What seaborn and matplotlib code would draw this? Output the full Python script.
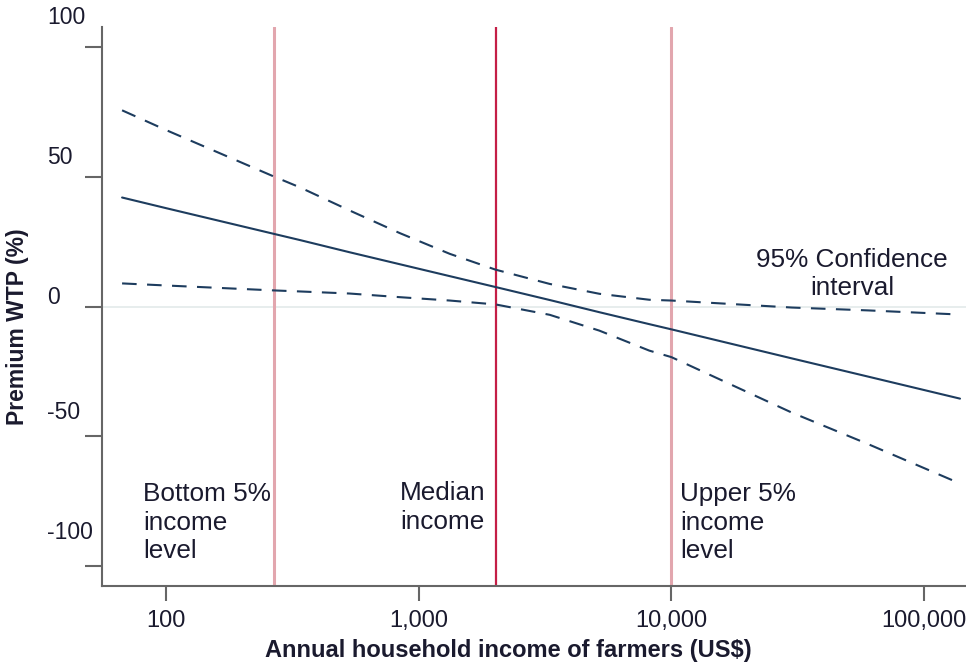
import numpy as np
import pandas as pd
import matplotlib
matplotlib.use("Agg")
import matplotlib.pyplot as plt
from matplotlib.ticker import FixedLocator, NullLocator
import seaborn as sns

# Annual household income (US$) at which the curves are given
income = [67, 100, 267, 339, 533, 841, 1327, 2015, 3300, 5190, 8180,
          10000, 30000, 60000, 138800]
# Fitted premium WTP (%) and its 95% confidence bounds
wtp_fit = [42.0, 37.9, 28.0, 25.6, 20.9, 16.3, 11.7, 7.5, 2.5, -2.2, -6.8,
           -8.8, -20.0, -27.0, -35.5]
ci_upper = [75.6, 68.0, 50.1, 45.9, 37.0, 28.3, 20.3, 14.2, 8.7, 4.9, 2.6,
            2.3, -0.4, -1.5, -3.1]
ci_lower = [8.9, 8.1, 6.2, 5.8, 5.0, 3.6, 2.3, 0.8, -3.2, -9.3, -17.0,
            -19.5, -40.9, -53.0, -68.2]

# Reference income levels
bottom_5 = 267
median_income = 2015
upper_5 = 10000

x_ticks = [100, 1000, 10000, 100000]
x_tick_labels = ["100", "1,000", "10,000", "100,000"]
y_ticks = [100, 50, 0, -50, -100]
y_tick_labels = ["100", "50", "0", "-50", "-100"]

df = pd.DataFrame({"income": income, "fit": wtp_fit,
                   "upper": ci_upper, "lower": ci_lower})

sns.set_theme(style="white")
plt.rcParams["font.family"] = ["Liberation Sans", "DejaVu Sans"]

NAVY = "#1d3c5e"
TXT = "#1a1a2e"
GREY = "#666666"
FS = 16.5

fig = plt.figure(figsize=(9.66, 6.62), dpi=100)
ax = fig.add_axes([0.1056, 0.1148, 0.8944, 0.8444])

ax.set_xscale("log")
ax.set_xlim(55.8, 146600)
ax.set_ylim(-107.7, 107.7)

# zero reference line
ax.axhline(0, color="#e3eaea", lw=1.2, zorder=1)

# income reference lines
ax.axvline(bottom_5, color="#e2a6ae", lw=2.2, zorder=2)
ax.axvline(median_income, color="#c41e46", lw=1.6, zorder=2)
ax.axvline(upper_5, color="#e2a6ae", lw=2.2, zorder=2)

sns.lineplot(data=df, x="income", y="fit", ax=ax, color=NAVY, lw=1.5,
             zorder=3)
sns.lineplot(data=df, x="income", y="upper", ax=ax, color=NAVY, lw=1.5,
             linestyle=(0, (7, 5)), zorder=3)
sns.lineplot(data=df, x="income", y="lower", ax=ax, color=NAVY, lw=1.5,
             linestyle=(0, (7, 5)), zorder=3)

# axes styling
for side in ("top", "right"):
    ax.spines[side].set_visible(False)
for side in ("left", "bottom"):
    ax.spines[side].set_color(GREY)
    ax.spines[side].set_linewidth(1.5)

ax.xaxis.set_major_locator(FixedLocator(x_ticks))
ax.xaxis.set_minor_locator(NullLocator())
ax.set_xticklabels(x_tick_labels)
ax.tick_params(axis="x", bottom=True, length=11, width=1.5, color=GREY,
               labelsize=17, labelcolor=TXT, pad=6.5)

ax.yaxis.set_major_locator(FixedLocator(y_ticks))
ax.set_yticklabels([])
ax.tick_params(axis="y", left=True, length=12, width=1.5, color=GREY)

# y tick labels sit slightly above their ticks
label_shift = [29, 19, 9, 24, 34]
for val, lab, dy in zip(y_ticks, y_tick_labels, label_shift):
    ax.annotate(lab, xy=(0, val), xycoords=("axes fraction", "data"),
                xytext=(-55, dy), textcoords="offset pixels",
                ha="left", va="center", fontsize=FS, color=TXT)

ax.set_xlabel("Annual household income of farmers (US$)", fontsize=17,
              fontweight="bold", color=TXT)
ax.set_ylabel("Premium WTP (%)", fontsize=FS, fontweight="bold", color=TXT)
ax.xaxis.set_label_coords((508 - 102) / 864, -(639 - 586) / 559)
ax.yaxis.set_label_coords(-(102 - 29) / 864, (586 - 327) / 559)

note_kw = dict(fontsize=18.8, color=TXT, linespacing=1.25, va="center")
ax.annotate("Bottom 5%\nincome\nlevel", xy=(81, -83.3), ha="left", **note_kw)
ax.annotate("Median\nincome", xy=(median_income, -77.5), xytext=(-10, 0),
            textcoords="offset pixels", ha="right", multialignment="left",
            **note_kw)
ax.annotate("Upper 5%\nincome\nlevel", xy=(upper_5, -83.3), xytext=(9, 0),
            textcoords="offset pixels", ha="left", **note_kw)
ax.annotate("95% Confidence\ninterval", xy=(51900, 12.5), ha="center",
            multialignment="center", **note_kw)

fig.savefig("out.png", dpi=100)
